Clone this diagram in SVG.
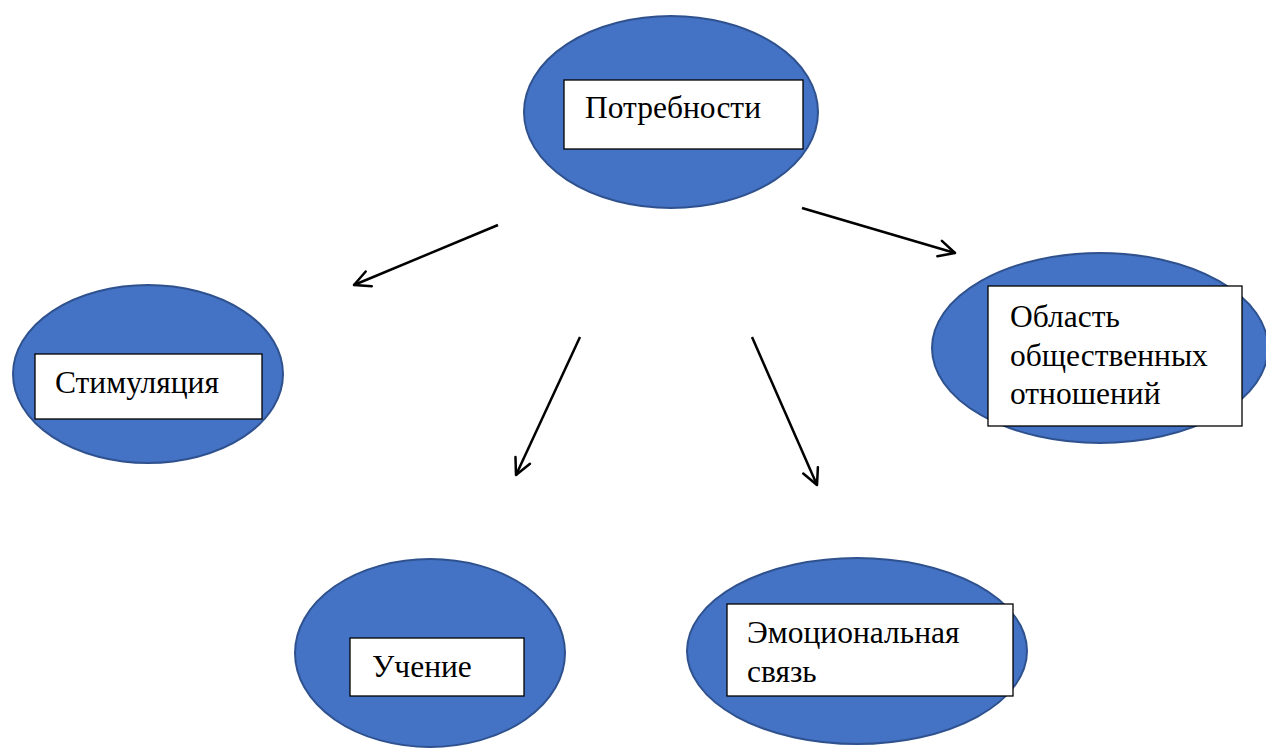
<svg xmlns="http://www.w3.org/2000/svg" width="1266" height="751" viewBox="0 0 1266 751">
<style>
.ell{fill:#4472C4;stroke:#2F528F;stroke-width:2}
.box{fill:#fff;stroke:#000;stroke-width:1.3}
.lbl{font-family:"Liberation Serif","Times New Roman",Times,serif;font-size:31.5px;fill:#000}
.conn{stroke:#000;stroke-width:2.5;fill:none;marker-end:url(#arr)}
</style>
<defs>
<marker id="arr" viewBox="0 0 20 20" refX="18" refY="10" markerWidth="20" markerHeight="20" markerUnits="userSpaceOnUse" orient="auto">
<path d="M2,2 L18,10 L2,18" fill="none" stroke="#000" stroke-width="2.5" stroke-linecap="round" stroke-linejoin="round"/>
</marker>
</defs>
<rect width="1266" height="751" fill="#fff"/>
<g id="connectors">
<line class="conn" x1="498" y1="225" x2="354" y2="285"/>
<line class="conn" x1="802" y1="208" x2="955" y2="253"/>
<line class="conn" x1="580" y1="337" x2="516" y2="475"/>
<line class="conn" x1="752" y1="337" x2="817" y2="485"/>
</g>
<g id="node-potrebnosti">
<ellipse class="ell" cx="671" cy="112" rx="147" ry="96"/>
<rect class="box" x="564" y="80" width="239" height="69"/>
<text class="lbl" x="585" y="118">Потребности</text>
</g>
<g id="node-stimulyatsiya">
<ellipse class="ell" cx="148" cy="374" rx="135" ry="89"/>
<rect class="box" x="35" y="354" width="227" height="65"/>
<text class="lbl" x="55" y="393">Стимуляция</text>
</g>
<g id="node-oblast">
<ellipse class="ell" cx="1100" cy="348" rx="168" ry="95"/>
<rect class="box" x="988" y="286" width="254" height="140"/>
<text class="lbl" x="1010" y="327">Область</text>
<text class="lbl" x="1010" y="366">общественных</text>
<text class="lbl" x="1010" y="404">отношений</text>
</g>
<g id="node-uchenie">
<ellipse class="ell" cx="430" cy="653" rx="135" ry="94"/>
<rect class="box" x="350" y="638" width="174" height="58"/>
<text class="lbl" x="372" y="677">Учение</text>
</g>
<g id="node-emotsionalnaya">
<ellipse class="ell" cx="857" cy="651" rx="170" ry="93"/>
<rect class="box" x="727" y="604" width="286" height="92"/>
<text class="lbl" x="747" y="643">Эмоциональная</text>
<text class="lbl" x="747" y="682">связь</text>
</g>
</svg>
